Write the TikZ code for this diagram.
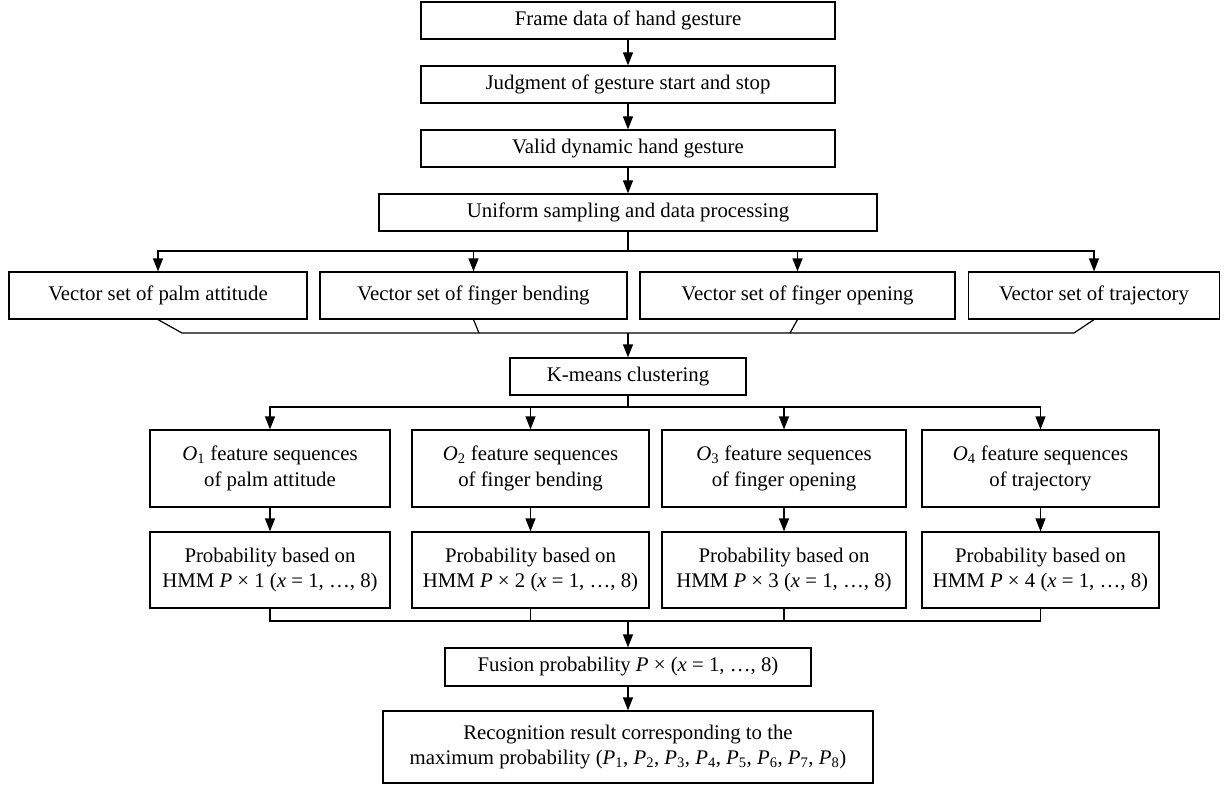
\documentclass[tikz,border=0pt]{standalone}
\usepackage{fontspec}
\setmainfont{Liberation Serif}
\usepackage{tikz}
\usetikzlibrary{arrows.meta}

\newcommand{\vr}[1]{\textit{#1}}
\newcommand{\sub}[2]{\textit{#1}\textsubscript{#2}}

\begin{document}
\begin{tikzpicture}[x=1pt, y=-1pt, node distance={64pt}, line width=1.2pt,
    box/.style = {draw, rectangle, inner sep=0pt, align=center, minimum height=37pt,
        font=\fontsize{20.8}{25.5}\selectfont},
    >={Triangle[length=13pt, width=10pt]}]
    \useasboundingbox (0,0) rectangle (1225,786);
		\node[box, minimum width=414pt] (1) at (628,20.5) {Frame data of hand gesture};
		\node[box, minimum width=414pt] (2) [below of=1] {Judgment of gesture start and stop};
		\node[box, minimum width=414pt] (3) [below of=2] {Valid dynamic hand gesture};
		\node[box, minimum width=498pt] (4) [below of=3] {Uniform sampling and data processing};
		
		\node[box, minimum width=298pt, minimum height=47pt] (5) at (158,295.5) {Vector set of palm attitude};
		\node[box, minimum width=307pt, minimum height=47pt] (6) at (473.5,295.5) {Vector set of finger bending};
		\node[box, minimum width=315pt, minimum height=47pt] (7) at (797.5,295.5) {Vector set of finger opening};
		\node[box, minimum width=251pt, minimum height=47pt] (8) at (1094,295.5) {Vector set of trajectory};
		
		\node[box, minimum width=236pt] (9) at (628,376.5) {K-means clustering};
		
		\node[box, minimum width=240pt, minimum height=77pt] (10) at (270,468.5) {\sub{O}{1} feature sequences\\of palm attitude};
		\node[box, minimum width=237pt, minimum height=77pt] (11) at (530.5,468.5) {\sub{O}{2} feature sequences\\of finger bending};
		\node[box, minimum width=244pt, minimum height=77pt] (12) at (784,468.5) {\sub{O}{3} feature sequences\\of finger opening};
		\node[box, minimum width=237pt, minimum height=77pt] (13) at (1040.5,468.5) {\sub{O}{4} feature sequences\\of trajectory};
		
		\node[box, minimum width=240pt, minimum height=76pt] (14) at (270,570) {Probability based on\\HMM \vr{P} × 1 (\vr{x} = 1, …, 8)};
		\node[box, minimum width=237pt, minimum height=76pt] (15) at (530.5,570) {Probability based on\\HMM \vr{P} × 2 (\vr{x} = 1, …, 8)};
		\node[box, minimum width=244pt, minimum height=76pt] (16) at (784,570) {Probability based on\\HMM \vr{P} × 3 (\vr{x} = 1, …, 8)};
		\node[box, minimum width=237pt, minimum height=76pt] (17) at (1040.5,570) {Probability based on\\HMM \vr{P} × 4 (\vr{x} = 1, …, 8)};
		
		\node[box, minimum width=366pt, minimum height=38pt] (18) at (628,667) {Fusion probability \vr{P} × (\vr{x} = 1, …, 8)};
		\node[box, minimum width=490pt, minimum height=72pt] (19) at (628,747) {Recognition result corresponding to the\\maximum probability (\sub{P}{1}, \sub{P}{2}, \sub{P}{3}, \sub{P}{4}, \sub{P}{5}, \sub{P}{6}, \sub{P}{7}, \sub{P}{8})};
		
		\coordinate (t) at (628,251);
		\coordinate (f) at (628,333);
		\coordinate (f1) at (182,333);
		\coordinate (f2) at (479,333);
		\coordinate (f3) at (790,333);
		\coordinate (f4) at (1074,333);
		\coordinate (k) at (628,407);
		\coordinate (h) at (628,621);
		
		\draw[->] (1) -- (2);
		\draw[->] (2) -- (3);
		\draw[->] (3) -- (4);
		\draw (4) -- (t);
		\draw[->] (t) -| (5);
		\draw[->] (t) -| (6);
		\draw[->] (t) -| (7);
		\draw[->] (t) -| (8);
		\draw (5.south) -- (f1) -- (f4);
		\draw (6.south) -- (f2);
		\draw (7.south) -- (f3);
		\draw (8.south) -- (f4);
		\draw[->] (f) -- (9);
		\draw (9) -- (k);
		\draw[->] (k) -| (10);
		\draw[->] (k) -| (11);
		\draw[->] (k) -| (12);
		\draw[->] (k) -| (13);
		\draw[->] (10) -- (14);
		\draw[->] (11) -- (15);
		\draw[->] (12) -- (16);
		\draw[->] (13) -- (17);
		\draw (14) |- (h);
		\draw (17) |- (h);
		\draw (15) -- (15 |- h);
		\draw (16) -- (16 |- h);
		\draw[->] (h) -- (18);
		\draw[->] (18) -- (19);
	\end{tikzpicture}
\end{document}
